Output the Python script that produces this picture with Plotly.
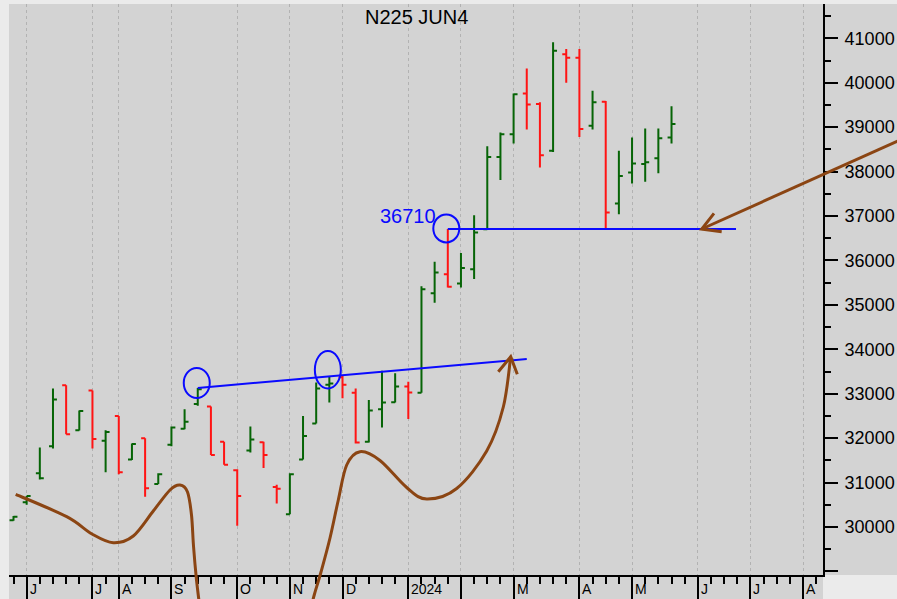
import plotly.graph_objects as go

# ---------------- data (weekly bars) ----------------
week = list(range(51))
open_ = [30150, 30560, 31210, 31820, 33190, 32180, 33070, 31940, 32500, 31520,
         32000, 30970, 31850, 32210, 32770, 32710, 31920, 31280, 31720, 31910,
         30900, 30290, 31520, 32330, 33200, 33370, 33020, 31920, 32650, 32810,
         33160, 33020, 35260, 35690, 35480, 35800, 36700, 38330, 38840, 39760,
         39520, 38470, 40640, 40560, 39030, 39570, 37280, 37980, 38170, 38300, 38770]
high = [30250, 30700, 31790, 33120, 33190, 32620, 33070, 32180, 32500, 31880,
        32000, 31210, 32260, 32650, 33130, 32710, 31920, 31300, 32260, 31920,
        30950, 31210, 32500, 33250, 33400, 33400, 33120, 32860, 33520, 33460,
        33270, 35420, 35970, 36710, 36170, 37020, 38570, 38880, 39760, 40320,
        39560, 40910, 40760, 40760, 39820, 39590, 38470, 38770, 38970, 38970, 39470]
low = [30140, 30500, 31070, 31770, 32090, 32170, 31770, 31230, 31190, 31510,
       30680, 30970, 31820, 32200, 32730, 31620, 31400, 30030, 31680, 31330,
       30530, 30290, 31520, 32330, 32800, 32900, 31880, 31900, 32240, 32800,
       32430, 33020, 35050, 35390, 35390, 35580, 36700, 37810, 38630, 38950,
       38090, 38440, 40000, 38780, 38950, 36710, 37040, 37730, 37770, 37960, 38630]
close = [30230, 30700, 31100, 32870, 32090, 32610, 31980, 32140, 31230, 31870,
         30870, 31190, 32240, 32370, 33100, 31620, 31400, 30700, 31970, 31620,
         30860, 31190, 32050, 33120, 33230, 33200, 31900, 32620, 32800, 33160,
         33030, 35350, 35730, 35410, 35830, 36630, 38330, 38840, 39740, 39510,
         38370, 40720, 40560, 38960, 39560, 37080, 37900, 38180, 38210, 38750, 39070]

month_idx = [1, 6, 8, 12, 17, 21, 25, 30, 34, 38, 43, 47, 52, 56, 60]
month_labels = ["J", "J", "A", "S", "O", "N", "D", "2024", "", "M", "A", "M", "J", "J", "A"]
n_slots = 62

ytick_vals = list(range(29000, 42000, 1000))
ytick_text = ["" if v == 29000 else str(v) for v in ytick_vals]
yminor_vals = list(range(29500, 42000, 1000))

title_text = "N225 JUN4"

# annotation anchors (chart-reader's drawing)
support_idx = 33            # bar whose high sets the support level
support_end_idx = 54.9
trend_start_idx = 14
trend_end_idx = 39
trend_end_value = 33780
circled_bars = [14, 24, 33]

# ---------------- styling ----------------
W, H = 897, 599
ML, MR, MT, MB = 9, 74, 4, 24
PX0, PX1, PY0, PY1 = ML, W - MR, MT, H - MB
GREEN = "#066406"
RED = "#ff1414"
BLUE = "#0a0aff"
BROWN = "#8b4513"
PLOT_BG = "#d3d3d3"
PAPER_BG = "#ebebeb"
FONT = "Liberation Sans, Arial, sans-serif"


def to_paper(px, py):
    return (px - PX0) / (PX1 - PX0), (PY1 - py) / (PY1 - PY0)


def smooth_path(pts):
    n = len(pts)
    segs = []
    for i in range(n - 1):
        p0 = pts[i - 1] if i > 0 else pts[i]
        p1, p2 = pts[i], pts[i + 1]
        p3 = pts[i + 2] if i + 2 < n else pts[i + 1]
        c1 = (p1[0] + (p2[0] - p0[0]) / 6, p1[1] + (p2[1] - p0[1]) / 6)
        c2 = (p2[0] - (p3[0] - p1[0]) / 6, p2[1] - (p3[1] - p1[1]) / 6)
        segs.append((c1, c2, p2))
    s = to_paper(*pts[0])
    d = f"M {s[0]:.5f},{s[1]:.5f}"
    for c1, c2, p in segs:
        a, b, c = to_paper(*c1), to_paper(*c2), to_paper(*p)
        d += f" C {a[0]:.5f},{a[1]:.5f} {b[0]:.5f},{b[1]:.5f} {c[0]:.5f},{c[1]:.5f}"
    return d


def poly_path(pts):
    P = [to_paper(*p) for p in pts]
    return "M " + " L ".join(f"{x:.5f},{y:.5f}" for x, y in P)


# ---------------- traces ----------------
up = []
for i in range(len(close)):
    ref = close[i - 1] if i > 0 else open_[i]
    up.append(close[i] >= ref)

fig = go.Figure()
for flag, col in ((True, GREEN), (False, RED)):
    ids = [i for i in range(len(close)) if up[i] == flag]
    fig.add_trace(go.Ohlc(
        x=[week[i] for i in ids],
        open=[open_[i] for i in ids],
        high=[high[i] for i in ids],
        low=[low[i] for i in ids],
        close=[close[i] for i in ids],
        increasing=dict(line=dict(color=col, width=2)),
        decreasing=dict(line=dict(color=col, width=2)),
        tickwidth=0.3,
        hoverinfo="skip",
        showlegend=False,
    ))

# ---------------- shapes ----------------
shapes = []
# strips behind axis areas
shapes.append(dict(type="rect", xref="paper", yref="paper", layer="below",
                   x0=1, x1=(W - PX0) / (PX1 - PX0) + 0.01, y0=0, y1=1,
                   fillcolor=PLOT_BG, line=dict(width=0)))
shapes.append(dict(type="rect", xref="paper", yref="paper", layer="below",
                   x0=0, x1=1, y0=-(MB + 2) / (PY1 - PY0), y1=0,
                   fillcolor=PLOT_BG, line=dict(width=0)))

# support line at the circled high
shapes.append(dict(type="line", xref="x", yref="y", x0=support_idx, x1=support_end_idx,
                   y0=high[support_idx], y1=high[support_idx], line=dict(color=BLUE, width=2)))
# rising trend line
shapes.append(dict(type="line", xref="x", yref="y", x0=trend_start_idx, x1=trend_end_idx,
                   y0=high[trend_start_idx], y1=trend_end_value, line=dict(color=BLUE, width=2)))
# circles (pixel-sized, anchored at the bar highs)
circle_px = {14: (-14, 12, -10, 20), 24: (-14.5, 11.5, -12.5, 25), 33: (-14.5, 11.5, -13.5, 14.5)}
for b in circled_bars:
    x0, x1, y0, y1 = circle_px[b]
    shapes.append(dict(type="circle", xref="x", yref="y", xsizemode="pixel", ysizemode="pixel",
                       xanchor=b, yanchor=high[b], x0=x0, x1=x1, y0=y0, y1=y1,
                       line=dict(color=BLUE, width=2)))

# free-hand brown curves (pixel sketch)
curve1 = [(15.7, 494.3), (66.7, 516.7), (92, 534), (113.3, 542.7), (133.3, 536),
          (153.3, 511), (170, 490), (180, 485), (187.5, 492), (191.5, 515),
          (193.5, 546), (196.3, 578), (199.5, 605)]
curve2 = [(311.5, 606), (314.5, 594), (321, 572), (330, 538), (338.3, 500),
          (346.7, 465), (360, 451.7), (380, 460.5), (406.7, 487.5), (426.7, 499),
          (456.7, 488.5), (486.7, 451), (503.3, 407), (510.7, 356.7)]
for c in (curve1, curve2):
    shapes.append(dict(type="path", xref="paper", yref="paper", path=smooth_path(c),
                       line=dict(color=BROWN, width=3)))
# arrow heads and straight arrow
shapes.append(dict(type="path", xref="paper", yref="paper",
                   path=poly_path([(498.3, 371.7), (510.7, 356.7), (517.3, 374.3)]),
                   line=dict(color=BROWN, width=3)))
shapes.append(dict(type="path", xref="paper", yref="paper",
                   path=poly_path([(905, 137.8), (701.7, 229)]),
                   line=dict(color=BROWN, width=3)))
shapes.append(dict(type="path", xref="paper", yref="paper",
                   path=poly_path([(714, 213.3), (701.7, 229), (721.7, 231.7)]),
                   line=dict(color=BROWN, width=3)))

# ---------------- annotations ----------------
ann = []
ann.append(dict(text=title_text, xref="paper", yref="paper", x=0.5, y=(PY1 - 17) / (PY1 - PY0),
                xanchor="center", yanchor="middle", showarrow=False,
                font=dict(family=FONT, size=20, color="black")))
ann.append(dict(text=str(high[support_idx]), xref="x", yref="y", x=support_idx, y=high[support_idx],
                xanchor="right", yanchor="middle", xshift=-10, yshift=13, showarrow=False,
                font=dict(family=FONT, size=20, color=BLUE)))
for idx, lab in zip(month_idx, month_labels):
    ann.append(dict(text=lab, xref="x", yref="paper", x=idx, y=0, xanchor="left", yanchor="top",
                    xshift=1, yshift=-4, showarrow=False,
                    font=dict(family=FONT, size=14, color="black")))

fig.update_layout(
    width=W, height=H,
    margin=dict(l=ML, r=MR, t=MT, b=MB, pad=0, autoexpand=False),
    paper_bgcolor=PAPER_BG, plot_bgcolor=PLOT_BG,
    showlegend=False,
    shapes=shapes, annotations=ann,
    xaxis=dict(range=[-0.342, 61.51], showline=True, linecolor="black", linewidth=2,
               automargin=False,
               ticks="outside", tickmode="array", tickvals=month_idx, showticklabels=False,
               ticklen=24, tickwidth=2, tickcolor="black",
               showgrid=True, gridcolor="#b2b2b2", griddash="dot", gridwidth=1,
               zeroline=False, rangeslider=dict(visible=False), fixedrange=True,
               minor=dict(tickmode="array", tickvals=list(range(n_slots)), ticks="outside",
                          ticklen=7, tickwidth=2, tickcolor="black", showgrid=False)),
    yaxis=dict(side="right", range=[28920, 41772], showline=True, linecolor="black", linewidth=2,
               automargin=False,
               ticks="outside", tickmode="array", tickvals=ytick_vals, ticktext=ytick_text,
               ticklen=13, tickwidth=2, tickcolor="black", showgrid=False, zeroline=False,
               fixedrange=True, ticklabelstandoff=3,
               tickfont=dict(family=FONT, size=18, color="black"),
               minor=dict(tickmode="array", tickvals=yminor_vals, ticks="outside",
                          ticklen=6, tickwidth=2, tickcolor="black", showgrid=False)),
)

fig.write_html(
    "out.html",
    config={"displayModeBar": False},
    post_script="document.body.style.margin='0';document.documentElement.style.overflow='hidden';",
)
